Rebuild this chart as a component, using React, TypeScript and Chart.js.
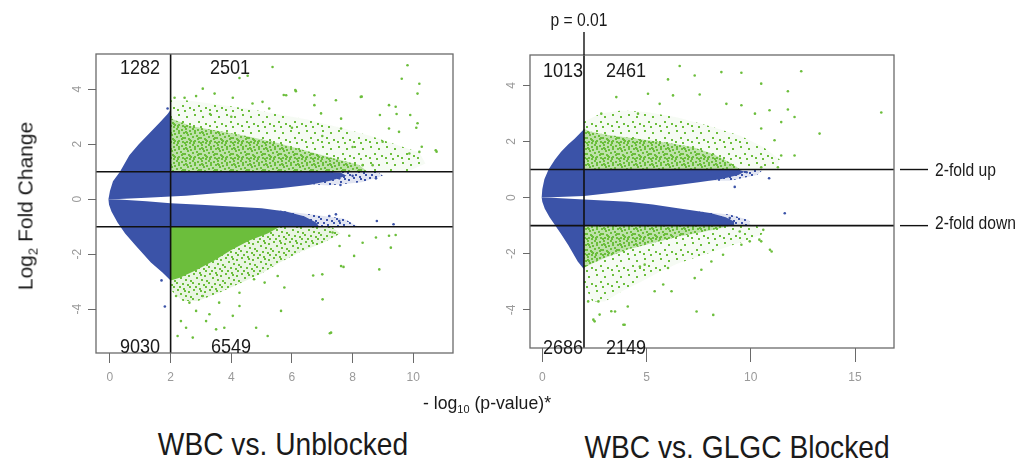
import React, { useEffect, useRef } from "react";
import { Chart, registerables } from "chart.js";
Chart.register(...registerables);

type P = [number, number];

// ---- thresholds ----
const P_CUT = 2; // -log10(0.01)
const FOLD_CUT = 1; // log2(2)

// ---- axis ranges / ticks ----
const LEFT_X_RANGE: P = [-0.46, 11.31];
const LEFT_Y_RANGE: P = [-5.59, 5.28];
const RIGHT_X_RANGE: P = [-0.59, 16.87];
const RIGHT_Y_RANGE: P = [-5.36, 5.08];
const LEFT_X_STEP = 2;
const RIGHT_X_STEP = 5;
const Y_STEP = 2;

// ---- left panel (WBC vs. Unblocked) : outlines of the dense clouds ----
const L_BLUE_UP: P[] = [[-0.05, 0], [0.0, 0.3], [0.1, 0.65], [0.33, 1.0], [0.64, 1.6], [0.95, 2.0], [1.3, 2.4], [1.65, 2.8], [1.9, 3.1], [2.0, 3.25], [2.0, 1.0], [7.0, 1.0], [7.6, 0.97], [7.8, 0.85], [7.3, 0.68], [6.6, 0.53], [5.6, 0.4], [4.5, 0.3], [3.5, 0.22], [2.5, 0.13], [2.0, 0.1], [1.2, 0.05], [0.3, 0.01]];
const L_BLUE_DOWN: P[] = [[-0.05, 0], [0.3, -0.01], [1.2, -0.07], [2.0, -0.15], [3.0, -0.2], [4.0, -0.26], [5.0, -0.33], [5.8, -0.45], [6.4, -0.62], [6.8, -0.85], [6.9, -1.0], [2.0, -1.0], [2.0, -2.95], [1.74, -2.67], [1.35, -2.3], [0.86, -1.7], [0.5, -1.25], [0.25, -0.85], [0.05, -0.45], [-0.03, -0.2]];
const L_BLUE_UP_TIP: P[] = [[6.0, 1.0], [8.8, 1.0], [9.0, 0.85], [8.3, 0.62], [7.2, 0.5], [6.0, 0.6]];
const L_BLUE_DOWN_TIP: P[] = [[5.5, -0.4], [6.6, -0.55], [7.7, -0.7], [8.2, -1.0], [6.0, -1.0]];
const L_GREEN_UP_CORE: P[] = [[2, 1], [8.5, 1], [8.2, 1.25], [7.5, 1.45], [6.5, 1.75], [5.5, 2.05], [4.5, 2.3], [3.5, 2.5], [2.7, 2.65], [2.2, 2.85], [2, 2.95]];
const L_GREEN_UP_HALO: P[] = [[2, 1], [9.8, 1], [10.4, 1.3], [10.2, 1.7], [9.4, 2.0], [8.6, 2.3], [7.6, 2.6], [6.5, 2.9], [5.5, 3.1], [4.5, 3.3], [3.5, 3.45], [2.5, 3.6], [2, 3.6]];
const L_GREEN_DOWN_CORE: P[] = [[2, -1], [5.6, -1], [5.2, -1.25], [4.6, -1.5], [4.0, -1.85], [3.4, -2.25], [2.8, -2.6], [2.3, -2.85], [2, -2.95]];
const L_GREEN_DOWN_HALO: P[] = [[2, -1], [7.3, -1], [7.6, -1.25], [7.0, -1.6], [6.3, -1.9], [5.6, -2.3], [5.0, -2.7], [4.4, -3.0], [3.6, -3.4], [2.9, -3.7], [2.4, -3.7], [2, -3.3]];

// ---- left panel : individual outlying genes ----
const L_GREEN_DOTS: P[] = [
  [5.36, 4.81], [9.81, 4.87], [4.54, 4.49], [4.27, 4.41], [9.62, 4.38], [3.06, 4.02], [6.13, 3.93], [10.14, 3.84], [2.13, 3.69], [2.46, 3.69],
  [2.84, 3.75], [3.45, 3.84], [4.05, 3.69], [5.81, 3.78], [6.74, 3.78], [6.74, 3.42], [7.45, 3.6], [8.27, 3.72], [9.2, 3.42], [9.42, 3.36],
  [8.9, 3.06], [9.9, 3.06], [10.14, 2.76], [10.74, 1.78], [10.2, 1.72], [9.87, 1.66], [4.7, 3.48], [5.03, 3.54], [5.25, 3.3], [6.96, 3.12],
  [7.62, 2.93], [7.62, 2.57], [9.2, 2.57], [9.53, 2.45], [8.99, 2.09], [8.66, 1.24], [8.33, 1.24], [10.28, 1.91], [10.77, 1.73], [10.1, 2.6],
  [10.2, 4.2], [6.11, 3.97], [5.73, 3.79], [8.3, 3.73], [9.45, 3.1], [3.3, 3.1], [4.0, 3.0], [6.0, 2.6], [7.0, 2.3], [8.0, 1.9],
  [2.34, -4.43], [2.51, -4.67], [2.23, -4.97], [2.73, -5.03], [2.84, -4.06], [3.17, -4.43], [3.5, -4.73], [3.77, -4.67], [3.28, -4.18], [4.05, -4.24],
  [4.27, -3.88], [4.82, -4.67], [5.2, -4.97], [5.64, -4.06], [7.01, -3.64], [7.29, -4.85], [7.62, -2.43], [8.88, -2.55], [8.05, -2.06], [9.26, -1.76],
  [7.57, -1.7], [6.7, -2.77], [7.0, -2.73], [9.2, -1.33], [9.42, -1.3], [8.77, -1.39], [8.33, -1.58], [7.89, -1.33], [7.34, -1.21], [5.75, -3.21],
  [5.53, -2.79], [4.75, -2.91], [5.1, -3.03], [4.27, -3.4], [3.6, -3.76], [3.06, -3.52], [2.62, -3.76], [2.18, -3.52], [7.25, -4.87], [7.7, -2.46],
];
const L_BLUE_DOTS: P[] = [[7.56, 0.76], [7.6, 0.52], [8.77, 0.76], [8.0, 0.85], [7.23, -0.61], [7.56, -0.79], [7.45, -0.55], [8.8, -0.79], [9.35, -0.91], [1.81, -3.9], [1.9, 3.3], [1.7, -2.95]];

// ---- right panel (WBC vs. GLGC Blocked) : outlines of the dense clouds ----
const R_BLUE_UP: P[] = [[-0.03, 0], [0.0, 0.3], [0.1, 0.65], [0.3, 1.0], [0.6, 1.35], [0.9, 1.63], [1.25, 1.9], [1.55, 2.1], [1.95, 2.4], [2.0, 2.45], [2.0, 1.0], [9.4, 1.0], [9.7, 0.92], [9.4, 0.8], [8.6, 0.66], [7.5, 0.55], [6.3, 0.43], [5.2, 0.33], [3.5, 0.18], [2.0, 0.06], [0.45, 0.01]];
const R_BLUE_DOWN: P[] = [[-0.03, 0], [0.45, -0.01], [2.0, -0.07], [4.1, -0.15], [5.3, -0.25], [6.5, -0.38], [7.4, -0.48], [8.1, -0.56], [8.8, -0.7], [9.2, -0.85], [9.2, -1.0], [2.0, -1.0], [2.0, -2.55], [1.7, -2.28], [1.25, -1.7], [0.9, -1.3], [0.63, -1.0], [0.35, -0.7], [0.12, -0.4], [0.0, -0.15]];
const R_BLUE_UP_TIP: P[] = [[8.0, 1.0], [10.6, 1.0], [10.3, 0.8], [9.0, 0.6], [8.0, 0.6]];
const R_BLUE_DOWN_TIP: P[] = [[7.5, -0.5], [9.0, -0.6], [9.9, -0.8], [10.0, -1.0], [8.0, -1.0]];
const R_GREEN_UP_CORE: P[] = [[2, 1], [9.5, 1], [9.0, 1.25], [8.2, 1.55], [7.2, 1.8], [6.0, 1.95], [5.0, 2.05], [4.0, 2.15], [3.0, 2.25], [2.3, 2.35], [2, 2.45]];
const R_GREEN_UP_HALO: P[] = [[2, 1], [11.2, 1], [11.4, 1.35], [10.6, 1.8], [9.5, 2.2], [8.0, 2.55], [6.5, 2.85], [5.0, 3.05], [3.8, 3.1], [2.8, 3.0], [2, 2.7]];
const R_GREEN_DOWN_CORE: P[] = [[2, -1], [9.0, -1], [8.4, -1.12], [7.5, -1.25], [6.5, -1.4], [5.3, -1.62], [4.1, -1.85], [3.0, -2.15], [2.4, -2.35], [2, -2.5]];
const R_GREEN_DOWN_HALO: P[] = [[2, -1], [10.3, -1], [10.6, -1.3], [9.5, -1.6], [8.5, -1.85], [7.5, -2.1], [6.5, -2.35], [5.5, -2.7], [4.6, -3.05], [3.8, -3.35], [3.0, -3.7], [2.4, -3.7], [2, -3.1]];

// ---- right panel : individual outlying genes ----
const R_GREEN_DOTS: P[] = [
  [6.59, 4.69], [7.31, 4.35], [8.59, 4.47], [9.55, 4.45], [12.42, 4.5], [10.5, 4.06], [11.78, 3.79], [6.03, 4.21], [16.26, 3.03], [13.3, 2.28],
  [11.78, 3.14], [12.1, 2.87], [3.55, 3.58], [5.07, 3.7], [6.27, 3.64], [7.55, 3.67], [8.83, 3.34], [9.55, 3.29], [10.5, 2.46], [11.46, 2.69],
  [10.9, 3.11], [10.2, 2.99], [11.14, 2.04], [12.1, 1.5], [11.46, 1.5], [11.3, 1.08], [10.5, 1.08], [5.63, 3.34], [4.59, 2.99], [2.83, 2.99],
  [10.6, -1.15], [10.41, -1.5], [10.92, -1.86], [7.4, -4.06], [8.2, -4.18], [3.89, -4.53], [2.2, -3.7], [2.69, -3.7], [2.45, -4.35], [3.49, -4.06],
  [6.2, -3.34], [5.8, -3.1], [4.68, -2.46], [2.51, -4.41], [2.75, -4.17], [3.31, -4.05], [3.95, -4.53], [4.1, -3.88], [5.39, -3.34], [7.31, -2.87],
  [7.63, -2.57], [6.03, -2.51], [4.91, -2.39], [11.0, -1.92], [10.5, -1.56], [9.55, -1.68], [9.95, -1.56], [8.67, -2.04], [8.11, -2.28], [9.47, -1.21],
];
const R_BLUE_DOTS: P[] = [[10.88, 0.69], [11.63, -0.56], [9.23, 0.38], [8.99, -0.73], [9.8, 0.9]];

// ---- text ----
const LEFT_COUNTS = ["1282", "2501", "9030", "6549"];
const RIGHT_COUNTS = ["1013", "2461", "2686", "2149"];
const PANEL_TITLES = ["WBC vs. Unblocked", "WBC vs. GLGC Blocked"];
const FOLD_LABELS = ["2-fold up", "2-fold down"];
const P_LABEL = "p = 0.01";

const FONT = "'Liberation Sans', Arial, Helvetica, sans-serif";
const BLUE = "#3b53a8";
const GREEN = "#6cbe3c";

// speckle textures (styling only): tile size, base tint, dot offsets
const DENSE_TILE = { size: 16, base: 0.4, spots: [[0, 0], [5, 1], [9, 0], [13, 2], [2, 4], [7, 4], [11, 6], [14, 5], [0, 8], [4, 7], [8, 9], [12, 10], [2, 12], [6, 13], [10, 13], [14, 12], [5, 10], [13, 14], [1, 14], [9, 3]] };
const MID_TILE = { size: 16, base: 0.15, spots: [[1, 1], [7, 0], [12, 3], [4, 5], [9, 7], [14, 8], [0, 10], [6, 11], [11, 12], [3, 14], [13, 14], [8, 2]] };
const SPARSE_TILE = { size: 16, base: 0.06, spots: [[2, 2], [10, 4], [6, 9], [13, 11], [1, 13], [8, 14]] };

function pattern(tile: { size: number; base: number; spots: number[][] }, rgb: string): any {
  const c = document.createElement("canvas");
  c.width = tile.size;
  c.height = tile.size;
  const g = c.getContext("2d") as CanvasRenderingContext2D;
  g.fillStyle = `rgba(${rgb},${tile.base})`;
  g.fillRect(0, 0, tile.size, tile.size);
  g.fillStyle = `rgb(${rgb})`;
  tile.spots.forEach(([x, y]) => g.fillRect(x, y, 2, 2));
  return g.createPattern(c, "repeat");
}

const GREEN_RGB = "108,190,60";
const BLUE_RGB = "59,83,168";

function fillFor(kind: string, rgb: string): any {
  if (kind === "solid") return `rgb(${rgb})`;
  if (kind === "dense") return pattern(DENSE_TILE, rgb);
  if (kind === "mid") return pattern(MID_TILE, rgb);
  return pattern(SPARSE_TILE, rgb);
}

const pts = (a: P[]) => a.map(([x, y]) => ({ x, y }));

function poly(a: P[], fill: any, order: number) {
  return { data: pts(a), showLine: true, fill: "shape", backgroundColor: fill, borderColor: "rgba(0,0,0,0)", borderWidth: 0, pointRadius: 0, order };
}
function dots(a: P[], color: string) {
  return { data: pts(a), showLine: false, pointRadius: 1.3, pointBackgroundColor: color, pointBorderColor: color, pointBorderWidth: 0, backgroundColor: color, order: 1 };
}
function cutLine(a: P[]) {
  return { data: pts(a), showLine: true, fill: false, borderColor: "#111", borderWidth: 1.6, pointRadius: 0, order: 0 };
}

const framePlugin = {
  id: "frame",
  afterDatasetsDraw(chart: any, _args: any, opts: any) {
    const { ctx, chartArea: a, scales } = chart;
    ctx.save();
    ctx.strokeStyle = "#6a6a6a";
    ctx.lineWidth = 1.3;
    ctx.strokeRect(a.left, a.top, a.right - a.left, a.bottom - a.top);
    ctx.strokeStyle = "#111";
    ctx.lineWidth = 1.4;
    if (opts.stem) {
      const x = scales.x.getPixelForValue(P_CUT);
      ctx.beginPath();
      ctx.moveTo(x, a.top);
      ctx.lineTo(x, a.top - 23);
      ctx.stroke();
    }
    if (opts.foldMarks) {
      [FOLD_CUT, -FOLD_CUT].forEach((v) => {
        const y = scales.y.getPixelForValue(v);
        ctx.beginPath();
        ctx.moveTo(a.right + 6, y);
        ctx.lineTo(a.right + 34, y);
        ctx.stroke();
      });
    }
    ctx.restore();
  },
};

interface Spec {
  xr: P; yr: P; xStep: number;
  blue: P[][]; blueTips: P[][]; greenCore: P[][]; greenHalo: P[][]; greenDots: P[]; blueDots: P[];
  coreFill: string[]; haloFill: string[];
  padding: any; xAxisH: number; xTick: number; xPad: number; yTick: number; yPad: number;
  stem: boolean; foldMarks: boolean;
}

function makeConfig(s: Spec): any {
  const datasets: any[] = [
    cutLine([[P_CUT, s.yr[0]], [P_CUT, s.yr[1]]]),
    cutLine([[s.xr[0], FOLD_CUT], [s.xr[1], FOLD_CUT]]),
    cutLine([[s.xr[0], -FOLD_CUT], [s.xr[1], -FOLD_CUT]]),
    dots(s.greenDots, GREEN),
    dots(s.blueDots, BLUE),
    ...s.blue.map((b) => poly(b, BLUE, 2)),
    ...s.blueTips.map((b) => poly(b, fillFor("mid", BLUE_RGB), 3)),
    ...s.greenCore.map((g, i) => poly(g, fillFor(s.coreFill[i], GREEN_RGB), 3)),
    ...s.greenHalo.map((g, i) => poly(g, fillFor(s.haloFill[i], GREEN_RGB), 4)),
  ];
  const tickFont = { family: FONT, size: 12 };
  return {
    type: "line",
    data: { datasets },
    options: {
      animation: false,
      responsive: false,
      events: [],
      layout: { padding: s.padding },
      plugins: { legend: { display: false }, tooltip: { enabled: false }, frame: { stem: s.stem, foldMarks: s.foldMarks } },
      scales: {
        x: {
          type: "linear", min: s.xr[0], max: s.xr[1],
          afterFit: (sc: any) => { sc.height = s.xAxisH; },
          ticks: { stepSize: s.xStep, includeBounds: false, maxRotation: 0, color: "#9a9a9a", font: tickFont, padding: s.xPad },
          grid: { drawOnChartArea: false, tickLength: s.xTick, color: "#6a6a6a", lineWidth: 1 },
          border: { display: false },
        },
        y: {
          type: "linear", min: s.yr[0], max: s.yr[1],
          afterFit: (sc: any) => { sc.width = 96; },
          ticks: { stepSize: Y_STEP, includeBounds: false, minRotation: 90, maxRotation: 90, crossAlign: "center", color: "#9a9a9a", font: tickFont, padding: s.yPad },
          grid: { drawOnChartArea: false, tickLength: s.yTick, color: "#6a6a6a", lineWidth: 1 },
          border: { display: false },
        },
      },
    },
    plugins: [framePlugin],
  };
}

const LEFT_SPEC: Spec = {
  xr: LEFT_X_RANGE, yr: LEFT_Y_RANGE, xStep: LEFT_X_STEP,
  blue: [L_BLUE_UP, L_BLUE_DOWN], blueTips: [L_BLUE_UP_TIP, L_BLUE_DOWN_TIP],
  greenCore: [L_GREEN_UP_CORE, L_GREEN_DOWN_CORE], coreFill: ["dense", "solid"],
  greenHalo: [L_GREEN_UP_HALO, L_GREEN_DOWN_HALO], haloFill: ["sparse", "mid"], greenDots: L_GREEN_DOTS, blueDots: L_BLUE_DOTS,
  padding: { left: 0, top: 54, right: 27, bottom: 0 }, xAxisH: 47, xTick: 10, xPad: 7, yTick: 8, yPad: 5,
  stem: false, foldMarks: false,
};
const RIGHT_SPEC: Spec = {
  xr: RIGHT_X_RANGE, yr: RIGHT_Y_RANGE, xStep: RIGHT_X_STEP,
  blue: [R_BLUE_UP, R_BLUE_DOWN], blueTips: [R_BLUE_UP_TIP, R_BLUE_DOWN_TIP],
  greenCore: [R_GREEN_UP_CORE, R_GREEN_DOWN_CORE], coreFill: ["dense", "dense"],
  greenHalo: [R_GREEN_UP_HALO, R_GREEN_DOWN_HALO], haloFill: ["sparse", "sparse"], greenDots: R_GREEN_DOTS, blueDots: R_BLUE_DOTS,
  padding: { left: 0, top: 55, right: 80, bottom: 0 }, xAxisH: 52, xTick: 14, xPad: 8, yTick: 7, yPad: 6,
  stem: true, foldMarks: true,
};

function Panel({ spec, left, width, height }: { spec: Spec; left: number; width: number; height: number }) {
  const ref = useRef<HTMLCanvasElement>(null);
  useEffect(() => {
    const chart = new Chart(ref.current as HTMLCanvasElement, makeConfig(spec));
    return () => chart.destroy();
  }, [spec]);
  return <canvas ref={ref} width={width} height={height} style={{ position: "absolute", left, top: 0, width, height }} />;
}

function Txt({ x, y, size, sx = 0.87, align = "center", children }: any) {
  const center = align === "center";
  return (
    <div
      style={{
        position: "absolute", left: x, top: y, fontFamily: FONT, fontSize: size, color: "#1a1a1a",
        whiteSpace: "nowrap", lineHeight: 1,
        transform: center ? `translate(-50%,-50%) scaleX(${sx})` : `translate(0,-50%) scaleX(${sx})`,
        transformOrigin: center ? "center center" : "left center",
      }}
    >
      {children}
    </div>
  );
}

const sub = { fontSize: "0.62em", position: "relative" as const, top: "0.38em" };

export default function App() {
  return (
    <div style={{ position: "absolute", left: 0, top: 0, width: 1025, height: 461, background: "#fff", overflow: "hidden" }}>
      <Panel spec={LEFT_SPEC} left={0} width={480} height={400} />
      <Panel spec={RIGHT_SPEC} left={434} width={540} height={400} />

      <Txt x={140} y={66} size={21} sx={0.86}>{LEFT_COUNTS[0]}</Txt>
      <Txt x={230} y={66} size={21} sx={0.86}>{LEFT_COUNTS[1]}</Txt>
      <Txt x={140} y={345} size={21} sx={0.86}>{LEFT_COUNTS[2]}</Txt>
      <Txt x={231} y={345} size={21} sx={0.86}>{LEFT_COUNTS[3]}</Txt>

      <Txt x={562.5} y={68.5} size={21} sx={0.86}>{RIGHT_COUNTS[0]}</Txt>
      <Txt x={626} y={68.5} size={21} sx={0.86}>{RIGHT_COUNTS[1]}</Txt>
      <Txt x={563} y={345.5} size={21} sx={0.86}>{RIGHT_COUNTS[2]}</Txt>
      <Txt x={626} y={345.5} size={21} sx={0.86}>{RIGHT_COUNTS[3]}</Txt>

      <Txt x={579} y={19.5} size={18}>{P_LABEL}</Txt>
      <Txt x={935} y={170} size={18} align="left">{FOLD_LABELS[0]}</Txt>
      <Txt x={935} y={223} size={18} align="left">{FOLD_LABELS[1]}</Txt>

      <div
        style={{
          position: "absolute", left: 25, top: 205.7, fontFamily: FONT, fontSize: 21, color: "#1a1a1a",
          whiteSpace: "nowrap", lineHeight: 1, transform: "translate(-50%,-50%) rotate(-90deg)",
        }}
      >
        Log<span style={sub}>2</span> Fold Change
      </div>

      <Txt x={487} y={402} size={19} sx={0.93}>
        - log<span style={sub}>10</span> (p-value)*
      </Txt>

      <Txt x={282.5} y={444} size={32} sx={0.88}>{PANEL_TITLES[0]}</Txt>
      <Txt x={736.7} y={446.5} size={32} sx={0.88}>{PANEL_TITLES[1]}</Txt>
    </div>
  );
}
